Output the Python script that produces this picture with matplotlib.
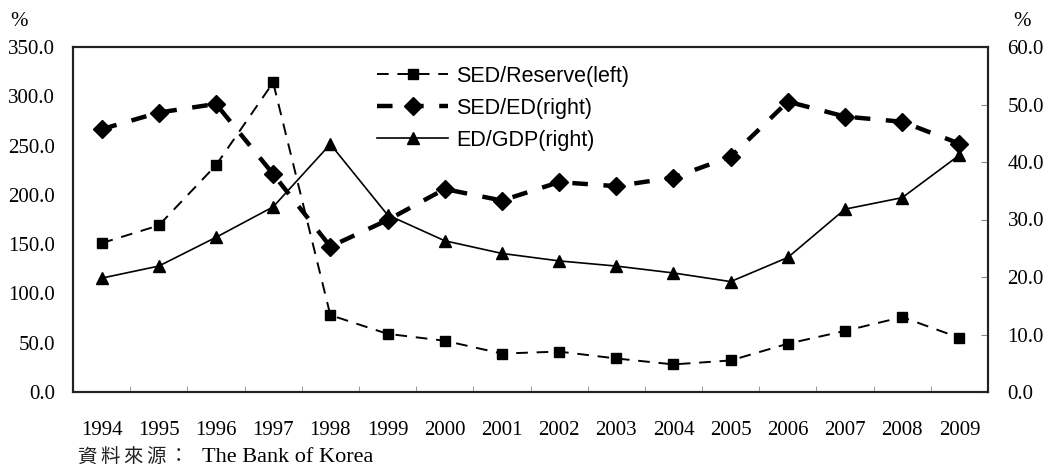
import matplotlib
matplotlib.use("Agg")
import matplotlib.pyplot as plt
import numpy as np

years = ["1994", "1995", "1996", "1997", "1998", "1999", "2000", "2001",
         "2002", "2003", "2004", "2005", "2006", "2007", "2008", "2009"]
sed_reserve = [151, 169, 230, 314, 78, 59, 52, 39, 41, 34, 28, 32, 49, 62, 76, 55]
sed_ed = [45.7, 48.6, 50.1, 37.9, 25.3, 29.9, 35.3, 33.3, 36.5, 35.8, 37.3, 40.9,
          50.5, 47.9, 47.0, 43.2]
ed_gdp = [19.8, 21.9, 26.9, 32.2, 43.1, 30.8, 26.3, 24.1, 22.8, 21.9, 20.7, 19.2,
          23.4, 31.8, 33.8, 41.2]
left_ticks = [0, 50, 100, 150, 200, 250, 300, 350]
right_ticks = [0, 10, 20, 30, 40, 50, 60]
source_cjk = "資料來源："
source_en = "The Bank of Korea"

serif = "Liberation Serif"
sans = "Liberation Sans"

fig = plt.figure(figsize=(10.52, 4.67), dpi=100)
ax = fig.add_axes([73/1052, 75/467, 915/1052, 345/467])
ax2 = ax.twinx()

x = np.arange(len(years))
l1, = ax.plot(x, sed_reserve, color="black", lw=1.4, ls=(0, (6, 4.5)),
              marker="s", ms=7.5, label="SED/Reserve(left)")
l2, = ax2.plot(x, sed_ed, color="black", lw=3.2, ls=(0, (3.5, 3.5)),
               marker="D", ms=9.5, label="SED/ED(right)")
l3, = ax2.plot(x, ed_gdp, color="black", lw=1.2, ls="-",
               marker="^", ms=9, label="ED/GDP(right)")

ax.set_xlim(-0.5, len(years) - 0.5)
ax.set_ylim(0, 350)
ax2.set_ylim(0, 60)
ax.set_yticks(left_ticks)
ax.set_yticklabels([f"{v:.1f}" for v in left_ticks], fontfamily=serif, fontsize=15)
ax2.set_yticks(right_ticks)
ax2.set_yticklabels([f"{v:.1f}" for v in right_ticks], fontfamily=serif, fontsize=15)
ax.set_xticks(x)
ax.set_xticklabels(years, fontfamily=serif, fontsize=15)
ax.set_xticks(np.arange(-0.5, len(years) + 0.5, 1), minor=True)
ax.tick_params(axis="x", which="major", length=0, pad=21)
ax.tick_params(axis="x", which="minor", length=4, direction="in", color="#888888")
ax.tick_params(axis="y", length=0, pad=13)
ax2.tick_params(axis="y", length=5, direction="in", pad=14, color="#888888")

for a in (ax, ax2):
    for s in a.spines.values():
        s.set_linewidth(1.5)
        s.set_color("#222222")

fig.text(10/1052, 1 - 21/467, "%", fontfamily=serif, fontsize=15, va="center", ha="left")
fig.text(1013/1052, 1 - 21/467, "%", fontfamily=serif, fontsize=15, va="center", ha="left")

leg = ax.legend(handles=[l1, l2, l3], loc="upper left",
                bbox_to_anchor=((377 - 73) / 915, (392 - 66) / 345),
                frameon=False, prop={"family": sans, "size": 15.5},
                handlelength=3.3, handletextpad=0.37, labelspacing=0.5,
                borderaxespad=0, borderpad=0)

for i, ch in enumerate(source_cjk):
    fig.text((77 + i * 23) / 1052, 1 - 457/467, ch,
             family=["Noto Sans CJK TC", serif], fontsize=14,
             va="center", ha="left", color="#222222")
fig.text(202/1052, 1 - 457/467, source_en,
         family=serif, fontsize=16, va="center", ha="left")

fig.savefig("out.png", dpi=100)
